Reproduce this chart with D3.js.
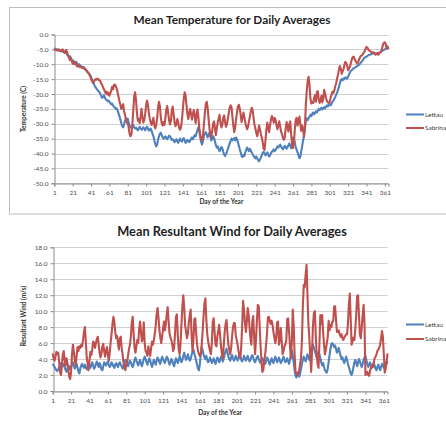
<!DOCTYPE html>
<html><head><meta charset="utf-8">
<script src="https://cdn.jsdelivr.net/npm/d3@7"></script>
<style>body{margin:0;background:#fff;}svg{display:block}</style>
</head><body><svg id="c" width="446" height="423"></svg>
<script>
const days = d3.range(1, 366);
const dayTicks = [1,21,41,61,81,101,121,141,161,181,201,221,241,261,281,301,321,341,361];
const seriesNames = ["Lettau", "Sabrina"];
const tempTicks = [0,-5,-10,-15,-20,-25,-30,-35,-40,-45,-50];
const windTicks = [0,2,4,6,8,10,12,14,16,18];

const tempLettau = [
-4.5,-4.8,-5.0,-5.2,-5.0,-5.3,-5.5,-5.4,-5.6,-5.8,
-5.7,-6.0,-5.8,-6.2,-6.8,-7.2,-7.5,-7.3,-7.8,-8.5,
-9.0,-8.8,-9.3,-9.6,-9.2,-9.8,-10.2,-10.0,-10.4,-10.6,
-10.8,-11.0,-10.9,-11.3,-11.6,-12.0,-12.4,-12.8,-13.2,-13.6,
-14.2,-15.0,-15.8,-16.5,-17.3,-17.8,-18.2,-18.6,-19.0,-19.3,
-19.8,-20.6,-21.3,-21.0,-20.4,-21.2,-21.8,-22.0,-22.4,-22.2,
-22.6,-23.0,-23.5,-23.2,-23.8,-24.3,-24.6,-25.0,-24.8,-25.6,
-26.5,-27.5,-28.6,-29.8,-30.8,-31.2,-30.2,-29.0,-28.2,-28.8,
-28.3,-29.5,-30.6,-31.2,-31.4,-31.0,-30.4,-31.2,-31.6,-31.3,
-31.8,-32.2,-31.6,-31.0,-31.5,-32.0,-31.8,-31.2,-31.6,-32.2,
-31.4,-31.0,-31.6,-32.3,-32.0,-31.6,-32.4,-33.4,-34.2,-35.6,
-36.8,-37.6,-37.0,-35.4,-34.2,-33.4,-33.0,-33.8,-34.6,-35.0,
-34.6,-34.2,-34.8,-35.2,-34.6,-34.0,-34.2,-34.8,-35.4,-35.2,
-35.6,-36.2,-35.8,-35.2,-35.8,-36.4,-35.6,-35.0,-35.6,-36.0,
-35.2,-34.8,-35.6,-36.4,-36.0,-35.4,-35.8,-36.2,-35.6,-35.0,
-34.6,-35.2,-34.4,-33.8,-34.2,-33.0,-32.0,-31.2,-32.6,-34.6,
-36.2,-37.0,-35.6,-34.0,-33.2,-32.8,-33.6,-34.6,-33.8,-33.0,
-34.2,-35.6,-35.0,-34.2,-34.8,-36.0,-37.2,-38.0,-37.6,-38.4,
-39.2,-38.6,-37.8,-38.2,-39.4,-40.4,-40.8,-40.2,-39.4,-38.4,
-37.6,-36.6,-35.8,-35.0,-35.6,-35.2,-34.8,-35.6,-34.6,-35.2,
-36.2,-37.4,-38.6,-39.6,-40.8,-41.2,-40.4,-40.8,-39.6,-38.8,
-38.0,-38.6,-39.2,-38.4,-39.0,-39.6,-40.2,-40.8,-41.2,-41.6,
-41.0,-41.6,-42.2,-42.6,-42.0,-41.4,-40.6,-39.8,-39.4,-40.0,
-40.6,-40.2,-39.6,-40.4,-41.0,-40.6,-39.8,-39.4,-39.0,-38.6,
-39.2,-38.8,-38.2,-37.6,-38.0,-37.4,-37.0,-37.6,-38.2,-38.6,
-38.0,-37.4,-37.8,-38.4,-37.8,-37.2,-36.6,-37.4,-38.2,-37.0,
-34.6,-35.0,-36.4,-38.0,-38.8,-39.6,-40.6,-41.6,-41.0,-39.2,
-37.4,-35.6,-33.8,-31.4,-29.0,-28.2,-28.8,-28.0,-27.6,-27.0,
-27.4,-26.6,-26.2,-26.8,-26.4,-25.8,-26.2,-25.6,-25.0,-25.4,
-25.0,-24.6,-25.2,-24.8,-24.4,-24.8,-24.2,-23.8,-24.2,-23.6,
-23.4,-23.8,-23.2,-22.6,-22.2,-21.6,-21.0,-20.2,-19.6,-18.6,
-17.6,-16.4,-15.4,-15.0,-15.4,-14.8,-15.0,-14.4,-14.6,-14.8,
-14.2,-13.4,-12.8,-12.2,-12.0,-11.6,-11.4,-11.2,-11.0,-10.8,
-10.6,-10.4,-10.2,-9.8,-9.4,-9.0,-8.6,-8.2,-7.8,-7.6,
-7.4,-7.2,-7.0,-6.8,-6.8,-6.6,-6.5,-6.4,-6.4,-6.3,
-6.4,-6.3,-6.2,-6.3,-6.1,-5.9,-5.7,-5.5,-5.4,-5.2,
-5.0,-4.8,-4.6,-4.4,-4.3];

const tempSabrina = [
-5.0,-5.2,-5.0,-5.4,-5.2,-5.0,-5.3,-5.6,-5.2,-5.0,
-5.4,-6.2,-5.8,-5.2,-6.0,-7.0,-7.8,-8.6,-8.0,-8.8,
-9.8,-9.2,-10.0,-9.4,-10.2,-10.8,-10.4,-10.6,-11.0,-10.8,
-11.2,-11.0,-11.4,-11.6,-11.8,-12.2,-12.6,-12.9,-13.4,-14.0,
-14.8,-15.6,-16.2,-16.0,-15.4,-15.0,-15.2,-14.8,-15.0,-15.4,
-15.6,-16.4,-17.0,-17.6,-18.4,-19.0,-19.8,-19.2,-20.2,-19.6,
-20.6,-19.8,-18.8,-17.6,-18.4,-17.0,-16.8,-17.4,-18.2,-19.6,
-21.0,-22.4,-23.6,-25.0,-24.2,-23.4,-25.8,-27.0,-28.4,-29.6,
-29.8,-31.2,-33.4,-34.2,-33.6,-30.2,-25.6,-21.0,-19.4,-22.0,
-26.4,-29.0,-28.4,-29.8,-27.6,-25.0,-27.8,-29.6,-28.8,-26.6,
-23.8,-22.2,-23.6,-26.4,-28.2,-29.6,-30.4,-29.2,-28.0,-30.6,
-31.6,-30.4,-28.2,-24.6,-22.6,-24.0,-27.8,-29.8,-30.6,-29.4,
-30.4,-28.0,-25.2,-24.0,-26.4,-28.8,-30.2,-29.0,-25.6,-24.2,
-26.8,-29.6,-30.8,-30.2,-28.4,-29.6,-31.4,-32.0,-31.2,-28.6,
-25.2,-21.6,-19.4,-20.6,-23.8,-26.8,-28.4,-26.2,-25.0,-26.8,
-28.6,-26.4,-25.4,-27.6,-29.8,-26.6,-25.2,-28.0,-31.6,-33.8,
-35.2,-35.6,-33.8,-30.0,-26.4,-23.4,-22.6,-24.6,-28.2,-31.6,
-33.6,-34.6,-32.4,-30.0,-29.2,-31.4,-33.8,-31.6,-29.6,-28.2,
-27.0,-29.6,-31.2,-30.4,-28.0,-27.2,-29.4,-31.0,-30.2,-28.4,
-26.4,-24.6,-23.8,-24.4,-27.6,-30.6,-32.8,-31.2,-28.6,-26.2,
-24.2,-23.6,-24.8,-27.0,-29.4,-28.0,-26.2,-27.8,-29.6,-30.8,
-31.8,-31.0,-29.2,-27.6,-26.0,-24.6,-25.4,-27.8,-30.2,-31.6,
-33.0,-34.2,-32.6,-30.6,-31.8,-33.4,-34.6,-36.2,-38.4,-38.8,
-35.6,-32.0,-29.6,-31.4,-32.8,-30.4,-28.6,-27.4,-28.2,-29.6,
-28.0,-28.8,-30.4,-31.8,-30.6,-29.2,-30.8,-32.6,-33.4,-34.8,
-35.4,-34.6,-31.6,-29.4,-30.8,-32.6,-30.0,-29.2,-33.6,-37.0,
-38.2,-36.4,-31.8,-28.6,-28.0,-30.6,-29.0,-27.6,-30.2,-32.4,
-30.6,-31.8,-34.4,-30.8,-23.4,-18.8,-15.6,-14.2,-17.2,-21.6,
-23.2,-22.8,-23.0,-21.2,-20.4,-22.6,-19.4,-19.0,-21.8,-23.0,
-22.2,-20.6,-22.8,-21.4,-18.6,-20.0,-21.4,-22.4,-22.8,-23.0,
-22.6,-21.2,-20.2,-19.2,-19.6,-18.8,-17.4,-16.4,-14.8,-13.4,
-11.8,-10.6,-11.4,-13.2,-12.4,-11.6,-10.2,-9.2,-9.6,-10.4,
-12.0,-11.4,-10.8,-9.6,-8.4,-7.6,-7.4,-8.2,-8.8,-9.4,
-9.8,-9.2,-8.4,-7.6,-7.2,-7.0,-6.6,-6.2,-5.6,-4.8,
-4.2,-4.4,-5.0,-5.4,-5.6,-5.8,-5.9,-6.2,-6.0,-6.4,
-6.8,-6.6,-6.4,-6.8,-6.2,-6.0,-5.8,-4.6,-3.4,-2.8,
-2.6,-3.2,-4.6,-4.0,-5.0];

const windLettau = [
3.4,3.2,3.0,2.8,2.6,2.5,2.7,3.0,3.3,3.5,
3.4,3.1,3.4,3.0,2.6,2.4,2.8,3.2,3.0,2.7,
3.0,3.3,3.6,3.2,2.8,3.1,3.4,2.9,2.4,2.2,
2.8,3.2,3.4,3.1,2.9,3.3,3.0,2.7,3.1,3.5,
3.2,2.9,3.3,3.6,3.2,2.8,3.0,3.4,3.7,3.3,
3.0,3.5,3.2,2.7,2.6,3.1,3.6,3.4,3.2,3.5,
3.7,3.3,3.0,3.2,3.6,3.4,3.1,2.9,3.3,3.5,
3.2,3.0,3.4,3.6,3.3,3.1,2.8,3.2,3.6,3.9,
3.7,3.4,3.1,3.5,3.8,3.6,3.2,3.0,3.4,3.9,
4.2,3.8,3.5,3.2,3.6,3.9,3.4,3.1,3.5,4.0,
4.3,4.0,3.6,3.3,3.7,4.1,3.8,3.4,3.0,3.5,
3.9,3.6,3.3,3.8,4.2,4.0,3.6,3.4,3.9,4.3,
4.0,3.7,3.5,3.9,4.3,4.1,3.7,3.3,3.6,4.0,
3.8,3.4,3.1,3.6,4.1,3.9,3.5,3.8,4.4,4.0,
3.6,3.9,4.4,4.8,4.3,3.9,4.2,4.6,4.1,3.8,
4.0,4.5,4.9,5.2,4.7,4.3,3.8,3.3,2.8,2.6,
3.4,4.6,5.5,5.1,4.6,4.2,4.0,4.4,3.9,3.6,
3.8,4.2,3.9,3.5,3.8,4.1,3.7,3.4,3.8,4.2,
4.0,3.6,3.9,4.3,4.0,3.7,4.1,4.6,5.0,5.3,
4.8,4.3,4.0,3.8,4.2,4.5,4.1,3.8,4.0,4.4,
4.1,3.8,4.2,4.6,4.3,3.9,3.7,4.0,4.4,4.1,
3.8,4.1,4.4,4.0,3.7,3.9,4.3,4.5,4.2,3.8,
3.6,3.9,4.2,4.4,4.0,3.7,3.5,3.8,4.1,3.9,
3.6,3.4,3.8,4.2,4.0,3.6,3.3,3.7,4.1,3.8,
3.5,3.9,4.3,4.0,3.6,3.9,4.2,3.8,3.5,3.7,
4.0,4.3,3.9,3.6,3.8,4.1,3.7,3.4,3.9,4.6,
5.1,4.4,3.6,2.6,1.9,1.7,2.0,2.4,1.8,2.2,
2.8,3.4,3.9,4.3,4.0,3.7,4.1,4.6,4.3,3.9,
4.4,5.0,5.5,5.8,5.4,5.0,4.6,4.2,4.5,4.9,
4.6,4.1,3.6,3.2,3.5,3.0,2.6,2.4,2.3,2.8,
3.6,4.5,5.3,5.9,6.0,5.8,5.5,5.7,5.3,4.8,
5.0,5.4,4.9,4.4,4.0,4.2,3.8,3.5,3.9,4.3,
3.9,3.4,3.0,2.6,2.2,2.0,2.4,3.0,3.6,3.9,
3.5,3.1,3.6,4.0,3.7,3.3,3.0,3.4,3.9,4.2,
4.4,3.9,3.4,3.0,3.3,3.6,3.2,2.9,3.1,3.5,
3.2,2.8,2.6,3.0,3.3,2.9,2.6,3.0,3.4,3.2,
2.9,3.3,3.6,3.4,3.7];

const windSabrina = [
4.7,4.1,3.8,4.3,4.9,4.6,4.8,3.6,2.4,2.0,
3.2,4.6,5.0,3.8,3.2,4.1,3.5,2.6,1.8,1.5,
2.4,4.6,5.8,4.9,3.9,3.2,4.4,5.5,5.0,5.6,
5.4,5.8,5.6,6.4,7.4,8.0,6.2,4.2,3.4,2.6,
3.8,4.9,4.5,5.2,6.2,6.0,5.4,6.0,6.5,6.8,
5.8,4.8,4.2,4.7,5.6,5.9,4.9,4.3,5.1,5.5,
4.6,3.8,4.8,6.1,7.2,8.4,9.3,8.6,7.4,6.6,
6.9,6.0,5.2,6.6,6.8,5.4,4.6,3.6,3.0,2.6,
3.4,3.7,4.5,5.3,5.8,6.8,8.6,9.3,7.2,5.4,
4.8,5.6,6.4,6.0,7.8,8.7,7.4,6.2,6.7,8.6,
6.0,5.0,4.8,4.4,5.6,4.9,4.4,5.4,6.2,5.8,
6.4,7.2,8.2,9.6,10.4,9.2,7.6,6.7,6.0,6.8,
7.8,8.7,7.6,8.4,9.6,10.5,8.8,7.2,6.7,6.4,
5.8,5.0,5.4,7.2,9.3,9.6,7.0,5.2,4.6,6.0,
8.4,10.6,12.0,10.4,8.2,7.4,6.6,7.2,8.6,9.5,
10.2,7.0,5.0,6.4,9.0,9.1,7.2,5.8,5.0,4.6,
4.4,4.6,5.8,7.4,9.4,11.0,11.6,9.0,7.2,6.2,
5.6,5.0,4.6,6.0,8.6,9.1,7.4,5.8,5.6,6.8,
7.6,8.3,7.0,5.6,4.6,4.1,5.8,7.4,8.4,8.9,
7.2,5.8,5.2,4.6,5.4,6.8,8.0,8.5,8.5,7.0,
6.4,5.8,5.0,4.4,4.1,5.6,8.2,11.3,10.2,8.6,
7.4,8.6,10.4,9.6,8.0,6.6,5.8,8.7,9.4,6.8,
4.6,6.4,8.8,10.8,10.6,8.2,5.6,3.7,2.4,2.6,
3.8,4.6,5.8,7.2,9.2,9.3,8.8,8.4,8.8,8.3,
7.4,6.7,6.0,6.7,8.6,8.7,5.8,6.4,7.9,6.2,
4.6,5.0,5.6,5.8,6.4,9.0,9.1,7.4,5.6,4.1,
6.2,10.2,8.3,4.6,2.4,2.2,2.0,2.2,2.6,3.4,
4.1,6.4,10.8,13.3,13.0,14.6,15.8,12.0,8.4,6.7,
4.4,2.4,5.0,8.3,9.8,10.0,7.0,4.6,3.4,2.9,
6.0,9.5,8.4,9.5,7.4,5.8,4.6,5.2,6.0,6.7,
8.8,7.6,8.3,8.0,8.7,8.7,10.6,10.6,9.0,7.4,
7.4,7.6,7.1,6.8,7.1,6.6,6.4,6.7,6.9,7.1,
7.1,8.4,10.8,12.2,9.0,5.8,6.2,6.7,6.4,7.8,
9.6,11.9,12.0,9.4,7.1,6.6,8.0,9.5,10.8,8.4,
2.0,2.2,2.4,2.0,1.9,2.5,2.9,3.2,3.0,3.6,
4.1,4.3,4.6,5.0,5.2,5.4,5.8,6.6,7.5,6.8,
4.6,2.3,2.8,3.6,4.7];

const colors = ["#4F81BD", "#C0504D"];
const FONT = "Lato, 'Liberation Sans', sans-serif";
const svg = d3.select("#c");

// top chart border
svg.append("rect").attr("x", 9.5).attr("y", 7.5).attr("width", 460).attr("height", 206.5)
  .attr("fill", "none").attr("stroke", "#bfbfbf").attr("stroke-width", 1);

function drawChart(o) {
  const g = svg.append("g");
  const x = d3.scaleLinear().domain([1, 365]).range([o.left, o.right]);
  const y = d3.scaleLinear().domain(o.yDomain).range([o.bottom, o.top]);
  g.append("g").selectAll("line").data(o.yTicks).join("line")
    .attr("x1", o.left).attr("x2", o.right)
    .attr("y1", d => Math.round(y(d)) + 0.5).attr("y2", d => Math.round(y(d)) + 0.5)
    .attr("stroke", "#d0d0d0").attr("stroke-width", 1);
  const yAxis = d3.axisLeft(y).tickValues(o.yTicks).tickSize(3).tickPadding(3)
    .tickFormat(d => d.toFixed(1));
  const ya = g.append("g").attr("transform", `translate(${Math.round(o.left) + 0.5},0)`).call(yAxis);
  ya.select(".domain").attr("stroke", "#8c8c8c");
  ya.selectAll(".tick line").attr("stroke", "#8c8c8c");
  ya.selectAll("text").attr("fill", "#4d4d4d").attr("font-size", 6.5).attr("font-family", FONT);
  const xAxis = d3.axisBottom(x).tickValues(dayTicks).tickSize(3).tickPadding(4)
    .tickFormat(d3.format("d"));
  const xa = g.append("g").attr("transform", `translate(0,${Math.round(o.bottom) + 0.5})`).call(xAxis);
  xa.select(".domain").attr("stroke", "#8c8c8c");
  xa.selectAll(".tick line").attr("stroke", "#8c8c8c");
  xa.selectAll("text").attr("fill", "#4d4d4d").attr("font-size", 6.5).attr("font-family", FONT);
  const line = d3.line().x((d, i) => x(days[i])).y(d => y(d));
  o.series.forEach((s, k) => {
    g.append("path").datum(s).attr("d", line).attr("fill", "none")
      .attr("stroke", colors[k]).attr("stroke-width", 2.1).attr("stroke-linejoin", "round");
  });
  g.append("text").attr("x", o.titleX).attr("y", o.titleY).attr("text-anchor", "middle")
    .attr("font-family", FONT).attr("font-weight", "bold").attr("font-size", o.titleSize)
    .attr("fill", "#1f1f1f").text(o.title);
  g.append("text").attr("x", (o.left + o.right) / 2).attr("y", o.xTitleY).attr("text-anchor", "middle")
    .attr("font-family", FONT).attr("font-weight", "bold").attr("font-size", 6.5)
    .attr("fill", "#333").text("Day of the Year");
  g.append("text").attr("transform", `translate(${o.yTitleX},${o.yTitleY}) rotate(-90)`)
    .attr("text-anchor", "middle").attr("font-family", FONT).attr("font-weight", "bold")
    .attr("font-size", 6.5).attr("fill", "#333").text(o.yTitle);
  seriesNames.forEach((n, k) => {
    const ly = o.legendY[k];
    g.append("line").attr("x1", 406).attr("x2", 424).attr("y1", ly).attr("y2", ly)
      .attr("stroke", colors[k]).attr("stroke-width", 2);
    g.append("text").attr("x", 425).attr("y", ly).attr("dy", "0.35em")
      .attr("font-family", FONT).attr("font-size", 6.5).attr("fill", "#404040").text(n);
  });
}

drawChart({
  left: 54.3, right: 388.5, top: 34.5, bottom: 183.3,
  yDomain: [-50, 0], yTicks: tempTicks,
  series: [tempLettau, tempSabrina],
  title: "Mean Temperature for Daily Averages", titleX: 232, titleY: 24, titleSize: 11.8,
  xTitleY: 204, yTitle: "Temperature (C)", yTitleX: 26, yTitleY: 109,
  legendY: [114.5, 128]
});

drawChart({
  left: 52.7, right: 387.5, top: 247.3, bottom: 391,
  yDomain: [0, 18], yTicks: windTicks,
  series: [windLettau, windSabrina],
  title: "Mean Resultant Wind for Daily Averages", titleX: 232, titleY: 235.5, titleSize: 12.8,
  xTitleY: 415, yTitle: "Resultant Wind (m/s)", yTitleX: 26, yTitleY: 316,
  legendY: [324.5, 339]
});
</script></body></html>
